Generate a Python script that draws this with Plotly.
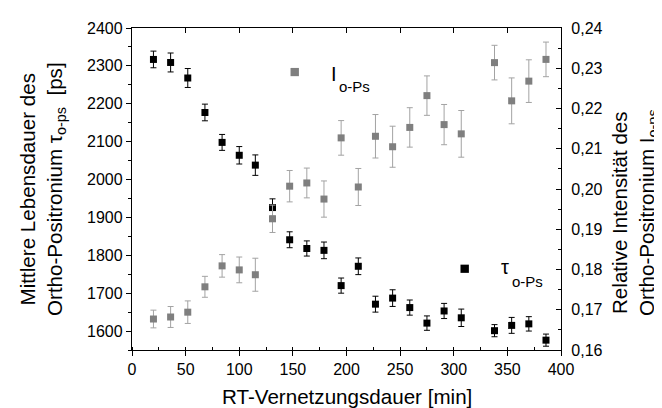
import plotly.graph_objects as go

# ---- data ----
time_min = [20, 36, 52, 68, 84, 100, 115, 131, 147, 163, 179, 195, 211, 227,
            243, 259, 275, 291, 307, 338, 354, 370, 386]
tau_ps = [2317, 2309, 2268, 2177, 2098, 2064, 2038, 1926, 1841, 1818, 1813,
          1720, 1771, 1671, 1687, 1662, 1621, 1653, 1635, 1601, 1615, 1619, 1576]
tau_err = [22, 25, 25, 22, 21, 23, 27, 23, 21, 20, 22, 20, 22, 21, 22, 20, 19,
           20, 23, 16, 21, 19, 16]
intensity = [0.1677, 0.1682, 0.1694, 0.1757, 0.1809, 0.1799, 0.1787, 0.1926,
             0.2007, 0.2015, 0.1975, 0.2127, 0.2005, 0.2131, 0.2105, 0.2153,
             0.2232, 0.2160, 0.2137, 0.2314, 0.2219, 0.2268, 0.2322]
intensity_err = [0.0022, 0.0026, 0.0028, 0.0026, 0.0028, 0.0032, 0.0041,
                 0.0034, 0.0039, 0.0037, 0.0045, 0.0043, 0.0046, 0.0054,
                 0.0051, 0.0049, 0.0049, 0.0050, 0.0058, 0.0043, 0.0057,
                 0.0053, 0.0043]

FONT = "Liberation Sans, Arial, sans-serif"
GRAY = "#7f7f7f"
GRAY_ERR = "#a3a3a3"

fig = go.Figure()
fig.add_trace(go.Scatter(
    x=time_min, y=tau_ps, mode="markers", xaxis="x", yaxis="y",
    marker=dict(symbol="square", size=7, color="black"),
    error_y=dict(type="data", array=tau_err, color="black", thickness=1, width=3),
    showlegend=False))
fig.add_trace(go.Scatter(
    x=time_min, y=intensity, mode="markers", xaxis="x", yaxis="y2",
    marker=dict(symbol="square", size=7, color=GRAY),
    error_y=dict(type="data", array=intensity_err, color=GRAY_ERR, thickness=1, width=3),
    showlegend=False))

tickfont = dict(family=FONT, size=16, color="black")

fig.update_layout(
    width=662, height=408,
    margin=dict(l=124, r=109, t=13, b=66),
    paper_bgcolor="white", plot_bgcolor="white",
    separators=",.",
    font=dict(family=FONT, color="black"),
    xaxis=dict(range=[0, 400], dtick=50, tick0=0, showline=True, linecolor="black",
               linewidth=1.3, ticks="outside", ticklen=5, tickwidth=1.3,
               tickcolor="black", showgrid=False, zeroline=False, tickfont=tickfont,
               minor=dict(dtick=25, ticks="inside", ticklen=3, tickwidth=1.3,
                          tickcolor="black", showgrid=False)),
    xaxis2=dict(range=[0, 400], dtick=50, tick0=0, overlaying="x", side="top",
                showline=True, linecolor="black", linewidth=1.3, ticks="inside",
                ticklen=5, tickwidth=1.3, tickcolor="black", showticklabels=False,
                showgrid=False, zeroline=False, matches="x"),
    yaxis=dict(range=[1550, 2400], dtick=100, tick0=1600, showline=True,
               linecolor="black", linewidth=1.3, ticks="outside", ticklen=5,
               tickwidth=1.3, tickcolor="black", showgrid=False, zeroline=False,
               tickfont=tickfont,
               minor=dict(dtick=50, ticks="outside", ticklen=3, tickwidth=1.3,
                          tickcolor="black", showgrid=False)),
    yaxis2=dict(range=[0.16, 0.24], dtick=0.01, tick0=0.16, overlaying="y",
                side="right", tickformat=".2f", showline=True, linecolor="black",
                linewidth=1.3, ticks="inside", ticklen=5, tickwidth=1.3,
                tickcolor="black", showgrid=False, zeroline=False,
                tickfont=tickfont, ticklabelstandoff=6,
                minor=dict(dtick=0.005, ticks="inside", ticklen=3, tickwidth=1.3,
                           tickcolor="black", showgrid=False)),
)
# dummy trace to show top axis
fig.add_trace(go.Scatter(x=[None], y=[None], xaxis="x2", yaxis="y", showlegend=False))

# legend symbols (paper coords)
def sq(cx, cy, color, half_px=4.2):
    hx = half_px / 429
    hy = half_px / 329
    fig.add_shape(type="rect", xref="paper", yref="paper",
                  x0=cx - hx, x1=cx + hx, y0=cy - hy, y1=cy + hy,
                  fillcolor=color, line=dict(width=0))

sq(0.3793, 0.8632, GRAY)
sq(0.7755, 0.2523, "black")

ann = []
ann.append(dict(x=0.4709, y=0.8571, text="I", size=20))
ann.append(dict(x=0.5175, y=0.8176, text="o-Ps", size=15))
ann.append(dict(x=0.8706, y=0.2584, text="τ", size=20))
ann.append(dict(x=0.9219, y=0.2128, text="o-Ps", size=15))
for a in ann:
    fig.add_annotation(xref="paper", yref="paper", showarrow=False,
                       xanchor="center", yanchor="middle",
                       font=dict(family=FONT, color="black", size=a["size"]),
                       x=a["x"], y=a["y"], text=a["text"])

TITLE_SIZE = 20.6
# axis titles
fig.add_annotation(xref="paper", yref="paper", x=0.5, y=(342 - 390) / 329,
                   text="RT-Vernetzungsdauer [min]", showarrow=False,
                   xanchor="center", yanchor="middle",
                   font=dict(family=FONT, size=TITLE_SIZE, color="black"))
fig.add_annotation(xref="paper", yref="paper", x=(34 - 124) / 429, y=0.5,
                   text="Mittlere Lebensdauer des<br>Ortho-Positronium τ<sub>o-ps</sub>  [ps]",
                   textangle=-90, showarrow=False, xanchor="center", yanchor="middle",
                   font=dict(family=FONT, size=TITLE_SIZE, color="black"))
fig.add_annotation(xref="paper", yref="paper", x=(627 - 124) / 429, y=0.4255,
                   text="Relative Intensität des<br>Ortho-Positronium I<sub>o-ps</sub>",
                   textangle=-90, showarrow=False, xanchor="center", yanchor="middle",
                   font=dict(family=FONT, size=TITLE_SIZE, color="black"))

fig.write_html("out.html")
